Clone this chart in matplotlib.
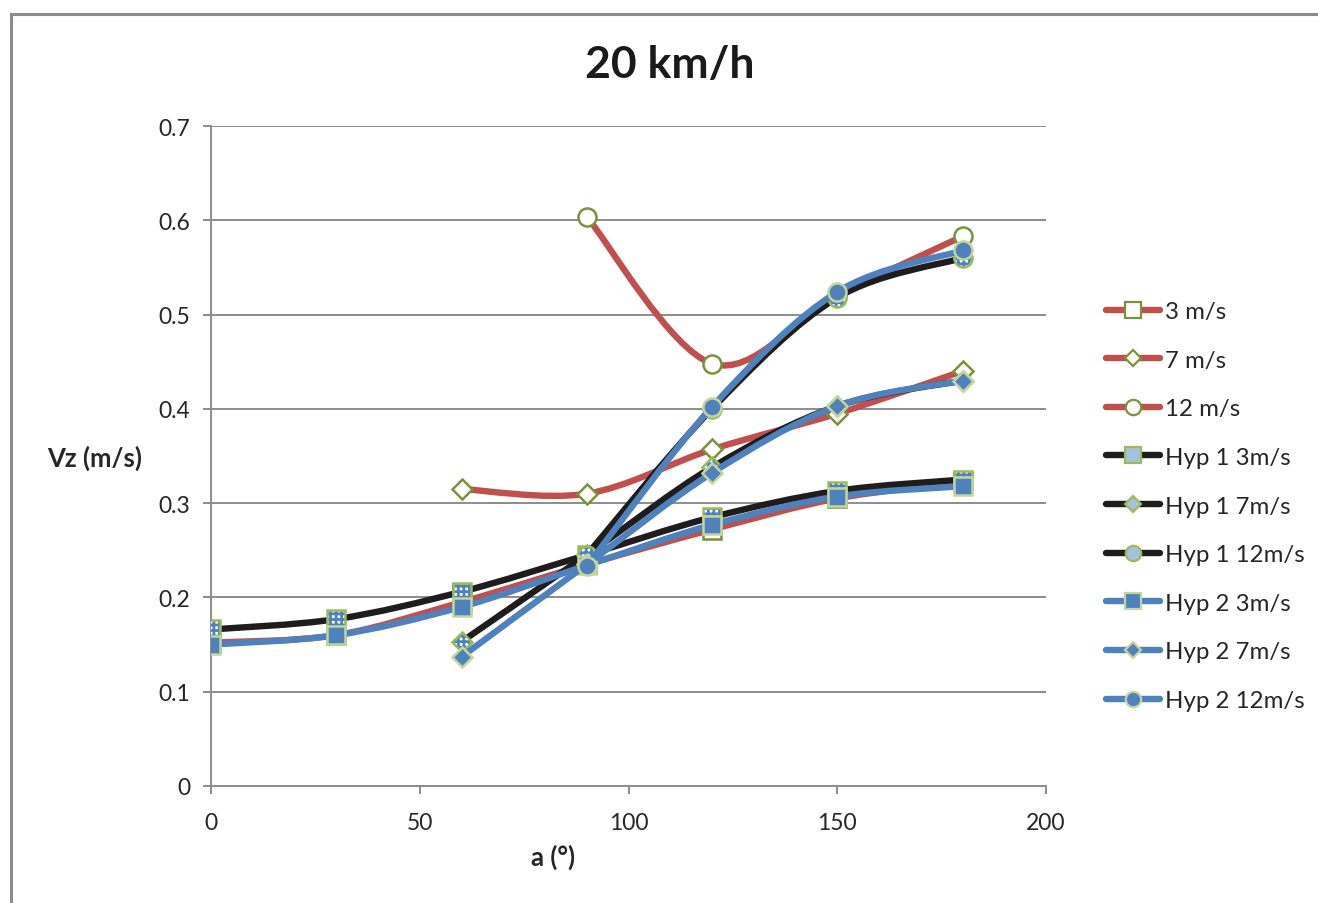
import matplotlib
matplotlib.use("Agg")
import matplotlib.pyplot as plt
from matplotlib.path import Path
from matplotlib.patches import PathPatch, Rectangle
from matplotlib.lines import Line2D
import numpy as np

plt.rcParams['font.family'] = ['Lato', 'DejaVu Sans']
plt.rcParams['hatch.color'] = '#4F81BD'
plt.rcParams['hatch.linewidth'] = 2.0

# ---- data ----
angles_full = [0, 30, 60, 90, 120, 150, 180]
angles_part = [60, 90, 120, 150, 180]
angles_12 = [90, 120, 150, 180]

meas_3 = [0.152, 0.160, 0.195, 0.235, 0.272, 0.305, 0.322]
meas_7 = [0.315, 0.310, 0.357, 0.395, 0.440]
meas_12 = [0.604, 0.448, 0.520, 0.583]

hyp1_3 = [0.166, 0.177, 0.206, 0.245, 0.285, 0.313, 0.325]
hyp1_7 = [0.153, 0.245, 0.338, 0.403, 0.430]
hyp1_12 = [0.245, 0.400, 0.518, 0.560]

hyp2_3 = [0.150, 0.160, 0.190, 0.234, 0.277, 0.307, 0.318]
hyp2_7 = [0.137, 0.235, 0.332, 0.403, 0.430]
hyp2_12 = [0.233, 0.402, 0.524, 0.568]

labels = ['3 m/s', '7 m/s', '12 m/s', 'Hyp 1 3m/s', 'Hyp 1 7m/s', 'Hyp 1 12m/s',
          'Hyp 2 3m/s', 'Hyp 2 7m/s', 'Hyp 2 12m/s']
xticks = [0, 50, 100, 150, 200]
yticks = [0, 0.1, 0.2, 0.3, 0.4, 0.5, 0.6, 0.7]
yticklabels = ['0', '0.1', '0.2', '0.3', '0.4', '0.5', '0.6', '0.7']

RED = '#C0504D'
BLACK = '#1E1C1D'
BLUE = '#4F81BD'
GREEN = '#77933C'
LGREEN = '#C3D69B'
MGREEN = '#9BBB59'
GRAY = '#8C8C8C'

W, H = 1318, 904
fig = plt.figure(figsize=(W / 100, H / 100), dpi=100)
fig.patches.append(Rectangle((11 / W, -0.1), 2, 1.1 - 15 / H, transform=fig.transFigure,
                             fill=False, edgecolor='#8C8C8C', lw=2.2))
ax = fig.add_axes([211 / W, 1 - 787 / H, 835 / W, 660 / H])
ax.set_xlim(0, 200)
ax.set_ylim(0, 0.7)


def smooth_path(x, y):
    pts = np.column_stack([x, y]).astype(float)
    n = len(pts)
    verts = [pts[0]]
    codes = [Path.MOVETO]
    for i in range(n - 1):
        p0 = pts[i - 1] if i > 0 else pts[i]
        p1 = pts[i]
        p2 = pts[i + 1]
        p3 = pts[i + 2] if i + 2 < n else pts[i + 1]
        c1 = p1 + (p2 - p0) / 6.0
        c2 = p2 - (p3 - p1) / 6.0
        verts += [c1, c2, p2]
        codes += [Path.CURVE4] * 3
    return Path(verts, codes)


LW = 4.6
series = [
    (angles_full, meas_3, RED, 's', 'open'),
    (angles_part, meas_7, RED, 'D', 'open'),
    (angles_12, meas_12, RED, 'o', 'open'),
    (angles_full, hyp1_3, BLACK, 's', 'check'),
    (angles_part, hyp1_7, BLACK, 'D', 'check'),
    (angles_12, hyp1_12, BLACK, 'o', 'check'),
    (angles_full, hyp2_3, BLUE, 's', 'solid'),
    (angles_part, hyp2_7, BLUE, 'D', 'solid'),
    (angles_12, hyp2_12, BLUE, 'o', 'solid'),
]
msize = {'s': 13, 'D': 10, 'o': 13}
z = 3
for x, y, col, mk, style in series:
    ax.add_patch(PathPatch(smooth_path(x, y), fill=False, edgecolor=col, lw=LW,
                           capstyle='round', joinstyle='round', zorder=z))
    ms = msize[mk]
    if style == 'open':
        ax.plot(x, y, ls='none', marker=mk, ms=ms, mfc='white', mec=GREEN, mew=1.8, zorder=z + 0.5)
    elif style == 'check':
        ax.scatter(x, y, s=ms ** 2, marker=mk, facecolor='white', edgecolor=BLUE,
                   linewidths=0, hatch='+++', zorder=z + 0.4)
        ax.plot(x, y, ls='none', marker=mk, ms=ms, mfc='none', mec=MGREEN, mew=1.8, zorder=z + 0.5)
    else:
        ax.plot(x, y, ls='none', marker=mk, ms=ms, mfc=BLUE, mec=LGREEN, mew=1.8, zorder=z + 0.5)
    z += 1

# axes styling
for s in ['top', 'right']:
    ax.spines[s].set_visible(False)
for s in ['left', 'bottom']:
    ax.spines[s].set_color(GRAY)
    ax.spines[s].set_linewidth(1.4)
ax.set_xticks(xticks)
ax.set_yticks(yticks)
ax.set_yticklabels(yticklabels)
ax.tick_params(axis='both', colors=GRAY, labelcolor='#262626', labelsize=16.5, length=6, width=1.4,
               direction='out')
ax.tick_params(axis='y', pad=9)
ax.tick_params(axis='x', pad=13)
ax.yaxis.grid(True, color=GRAY, lw=1.4)
ax.set_axisbelow(True)

fig.text(670 / W, 1 - 65 / H, '20 km/h', ha='center', va='center', fontsize=32, fontweight='bold',
         color='#1a1a1a')
fig.text(95 / W, 1 - 458 / H, 'Vz (m/s)', ha='center', va='center', fontsize=18.5, fontweight='bold',
         color='#262626')
fig.text(553 / W, 1 - 857 / H, 'a (°)', ha='center', va='center', fontsize=18.5, fontweight='bold',
         color='#262626')

# legend
handles = []
for x, y, col, mk, style in series:
    ms = msize[mk] * 0.85
    if style == 'open':
        h = Line2D([], [], color=col, lw=LW, marker=mk, ms=ms, mfc='white', mec=GREEN, mew=1.6)
    elif style == 'check':
        h = Line2D([], [], color=col, lw=LW, marker=mk, ms=ms, mfc='#A7C0DE', mec=MGREEN, mew=1.6)
    else:
        h = Line2D([], [], color=col, lw=LW, marker=mk, ms=ms, mfc=BLUE, mec=LGREEN, mew=1.6)
    h.set_solid_capstyle('round')
    handles.append(h)
leg = fig.legend(handles, labels, loc='upper left', bbox_to_anchor=(1106 / W, 1 - 302 / H),
                 frameon=False, fontsize=17.3, handlelength=2.25, handletextpad=0.2,
                 labelspacing=1.15, borderpad=0, borderaxespad=0)
for t in leg.get_texts():
    t.set_color('#262626')

fig.savefig('out.png', dpi=100)
